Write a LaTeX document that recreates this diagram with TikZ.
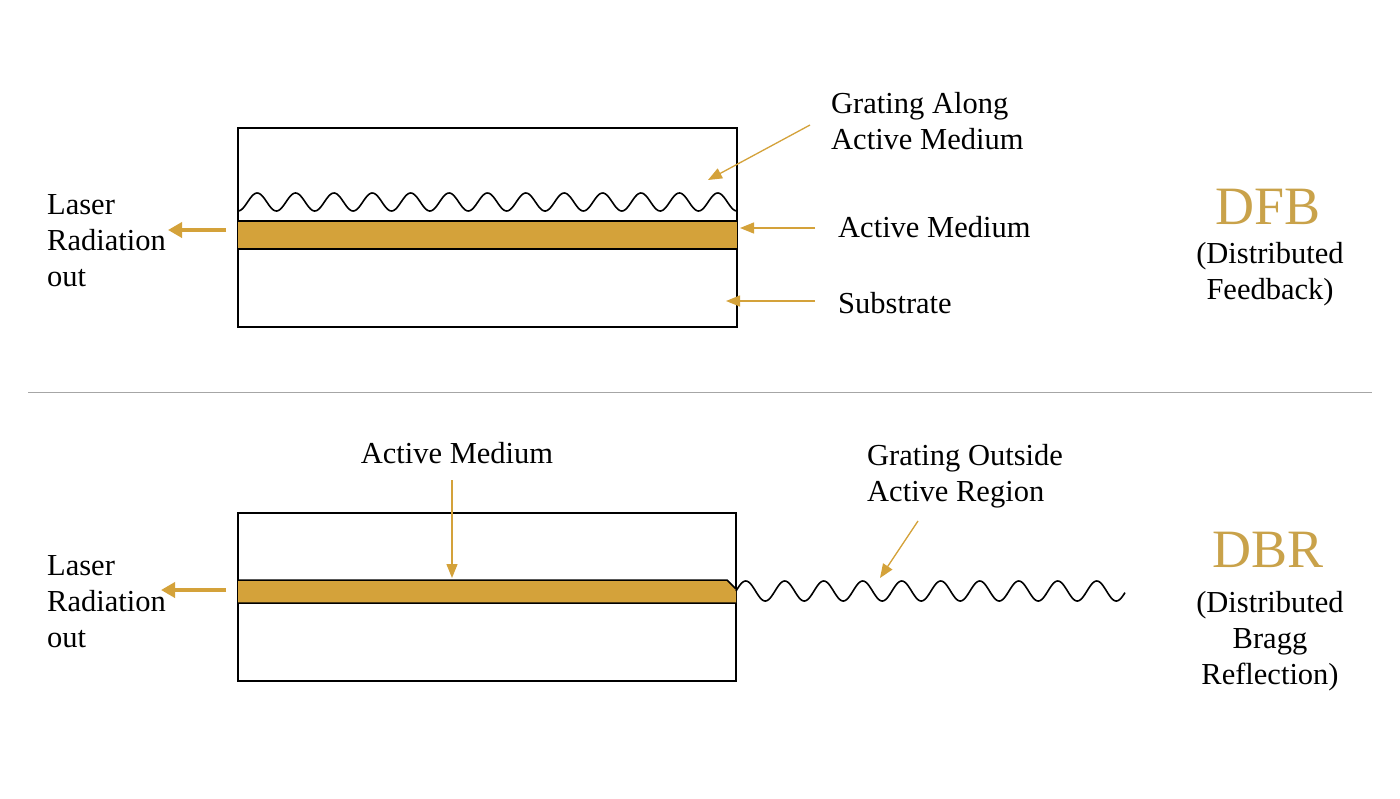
\documentclass[tikz,border=0pt]{standalone}
\usepackage{fontspec}
\setmainfont{Liberation Serif}
\usetikzlibrary{arrows.meta}
\definecolor{gold}{HTML}{D4A23A}
\definecolor{goldt}{HTML}{C9A24A}
\begin{document}
\begin{tikzpicture}[x=1pt,y=-1pt,
  lbl/.style={font=\fontsize{30.5}{36}\selectfont,inner sep=0pt,align=left},
  big/.style={font=\fontsize{54}{54}\selectfont,text=goldt,inner sep=0pt},
  ptr/.style={draw=gold,line width=1.3pt,-{Triangle[length=14pt,width=11pt]}},
  fat/.style={draw=gold,line width=3.5pt,-{Triangle[length=14pt,width=15pt]}},
  wave/.style={black,line width=1.6pt}]
\useasboundingbox[fill=white] (0,0) rectangle (1400,798);
% top
\draw[line width=1.5pt] (238,128) rectangle (737,327);
\fill[gold] (238,221) rectangle (737,249);
\draw[line width=1.5pt] (238,221) -- (737,221) (238,249) -- (737,249);
\draw[wave] plot[domain=238:737,samples=400,smooth] (\x,{202+9*cos(((\x-238)/38.38)*360)});
% bottom
\draw[line width=1.5pt] (238,513) rectangle (736,681);
\fill[gold] (238,580) -- (727,580) -- (736,589) -- (736,603) -- (238,603) -- cycle;
\draw[line width=1.5pt] (238,580) -- (727,580) -- (736,589) (238,603) -- (736,603);
\draw[wave] plot[domain=736:1125,samples=400,smooth] (\x,{591-10*sin(((\x-736)/39)*360)});
% divider
\draw[gray!70,line width=1pt] (28,392) -- (1372,392);
% labels top
\node[lbl,anchor=west] (g1) at (831,121) {Grating Along\\Active Medium};
\node[lbl,anchor=west] (am1) at (838,227) {Active Medium};
\node[lbl,anchor=west] (sub) at (838,303) {Substrate};
\node[lbl,anchor=west] (las1) at (47,241) {Laser\\Radiation\\out};
\node[big] (dfb) at (1268,207) {DFB};
\node[lbl,align=center] (dfbt) at (1270,274) {(Distributed\\Feedback)};
\coordinate (g1e) at (708,180);
\coordinate (am1e) at (740,228);
\coordinate (sube) at (726,301);
\coordinate (l1s) at (226,230);
\coordinate (l1e) at (168,230);
\draw[ptr] (810,125) -- (g1e);
\draw[ptr] (815,228) -- (am1e);
\draw[ptr] (815,301) -- (sube);
\draw[fat] (l1s) -- (l1e);
% labels bottom
\node[lbl,anchor=center] (am2) at (457,453) {Active Medium};
\node[lbl,anchor=west] (g2) at (867,476) {Grating Outside\\Active Region};
\node[lbl,anchor=west] (las2) at (47,602) {Laser\\Radiation\\out};
\node[big] (dbr) at (1268,550) {DBR};
\node[lbl,align=center] (dbrt) at (1270,641) {(Distributed\\Bragg\\Reflection)};
\coordinate (am2e) at (452,578);
\coordinate (g2e) at (880,578);
\coordinate (l2s) at (226,590);
\coordinate (l2e) at (161,590);
\draw[ptr] (452,480) -- (am2e);
\draw[ptr] (918,521) -- (g2e);
\draw[fat] (l2s) -- (l2e);
\end{tikzpicture}
\end{document}
